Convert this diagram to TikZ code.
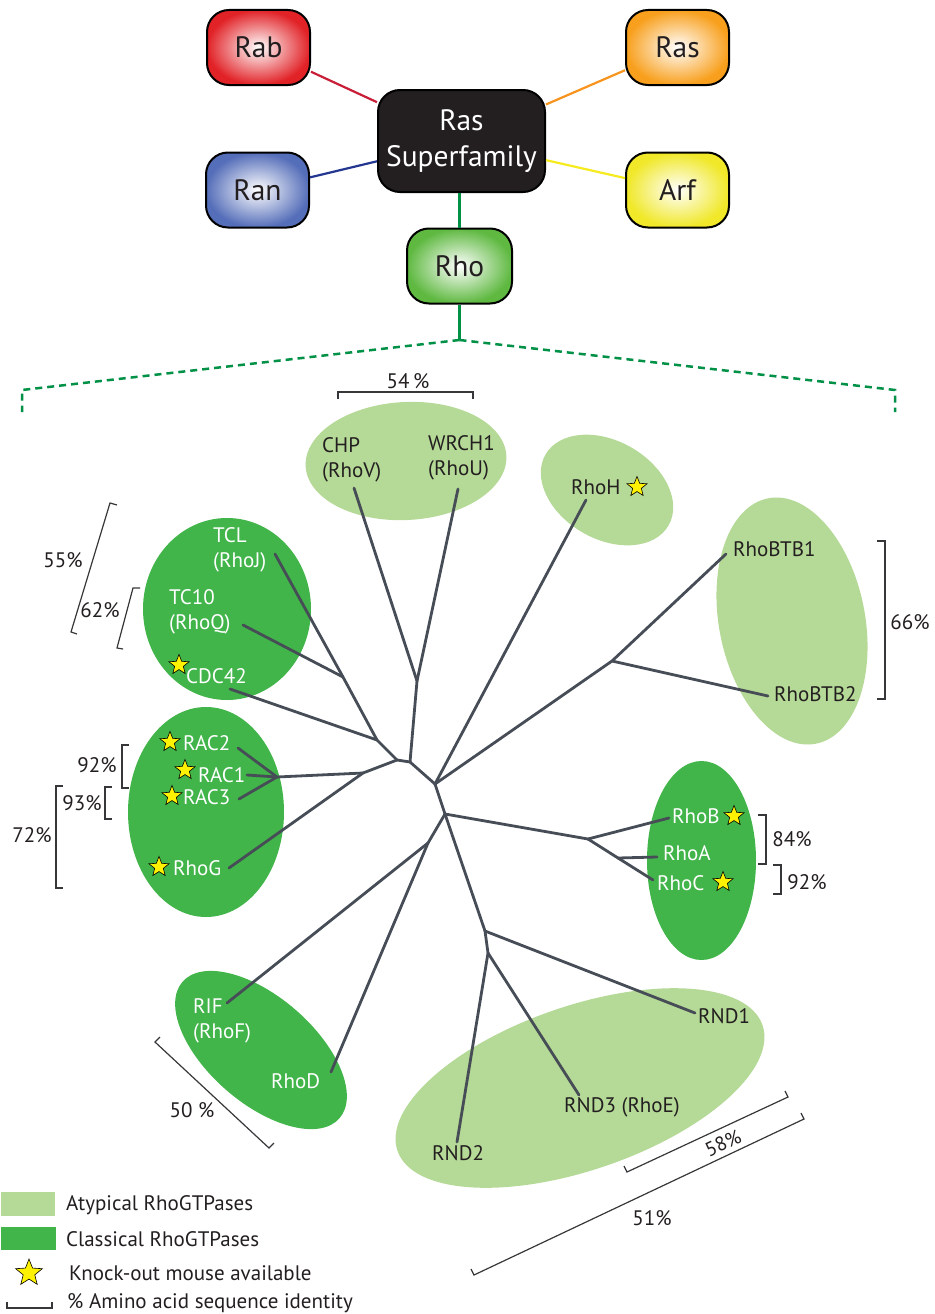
\documentclass[tikz,border=0pt]{standalone}
\usepackage{fontspec}
\setmainfont{PT Sans}
\usetikzlibrary{shapes.geometric}
\definecolor{lgreen}{RGB}{181,217,150}
\definecolor{dgreen}{RGB}{65,180,74}
\definecolor{treec}{RGB}{71,77,87}
\definecolor{txt}{RGB}{35,31,32}
\definecolor{brkc}{RGB}{55,55,58}
\definecolor{starY}{RGB}{255,242,0}
\definecolor{rabC}{RGB}{225,35,40}
\definecolor{rasC}{RGB}{248,160,30}
\definecolor{ranC}{RGB}{85,110,185}
\definecolor{arfC}{RGB}{240,232,40}
\definecolor{rhoC}{RGB}{95,185,65}
\definecolor{rabL}{RGB}{200,30,55}
\definecolor{rasL}{RGB}{247,148,29}
\definecolor{ranL}{RGB}{35,55,145}
\definecolor{arfL}{RGB}{245,235,30}
\definecolor{rhoL}{RGB}{0,145,70}
\begin{document}
\begin{tikzpicture}[x=1pt,y=-1pt,
  fam/.style={draw=black, line width=2pt, rounded corners=22pt, minimum width=103pt, minimum height=75pt, inner sep=0pt, font=\fontsize{29.5}{31}\selectfont, text=txt, shade, shading=radial, inner color=white},
  famline/.style={line width=2.2pt},
  ell/.style={ellipse, inner sep=0pt, draw=none},
  tree/.style={draw=treec, line width=2.8pt, line cap=round, line join=round},
  lbl/.style={font=\fontsize{21}{25}\selectfont, inner sep=0pt, anchor=west, align=left},
  lblW/.style={lbl, text=white},
  lblD/.style={lbl, text=txt},
  pct/.style={font=\fontsize{21}{24}\selectfont, inner sep=0pt, text=txt},
  brk/.style={draw=brkc, line width=1.2pt},
  kostar/.style={star, star points=5, star point ratio=2.3, minimum size=21pt, inner sep=0pt, fill=starY, draw=black, line width=0.6pt},
  dashg/.style={draw=rhoL, line width=2.5pt, dash pattern=on 7pt off 5pt}
]
\useasboundingbox (0,0) rectangle (934,1314);

% ---------- top: Ras superfamily ----------
\node[draw=black, line width=2pt, fill=txt, rounded corners=22pt, minimum width=167pt, minimum height=102pt, inner sep=0pt, text=white, align=center, font=\fontsize{29.5}{36}\selectfont] (super) at (461.5,141) {Ras\\Superfamily};
\node[fam, outer color=rabC] (rab) at (258.5,47.5) {Rab};
\node[fam, outer color=rasC] (ras) at (677.5,47.5) {Ras};
\node[fam, outer color=ranC] (ran) at (257.5,190) {Ran};
\node[fam, outer color=arfC] (arf) at (677.5,190) {Arf};
\node[fam, outer color=rhoC, minimum width=105pt] (rho) at (459.5,266) {Rho};

\draw[famline, rabL] (rab) -- (super);
\draw[famline, rasL] (ras) -- (super);
\draw[famline, ranL] (ran) -- (super);
\draw[famline, arfL] (arf) -- (super);
\draw[famline, rhoL] (rho.north) -- (rho.north |- super.south);

\coordinate (split) at (459.5,340);
\coordinate (dl1) at (22,390);
\coordinate (dl2) at (22,412);
\coordinate (dr1) at (895,390);
\coordinate (dr2) at (895,412);
\draw[famline, rhoL] (rho.south) -- (split);
\draw[dashg] (split) -- (dl1) -- (dl2);
\draw[dashg] (split) -- (dr1) -- (dr2);

% ---------- ellipses ----------
\node[ell, fill=lgreen, minimum width=201pt, minimum height=118pt, rotate=3] (elCHP) at (406,461) {};
\node[ell, fill=lgreen, minimum width=142pt, minimum height=98pt, rotate=-30] (elRhoH) at (607,490) {};
\node[ell, fill=lgreen, minimum width=146pt, minimum height=250pt, rotate=11] (elBTB) at (792,621) {};
\node[ell, fill=dgreen, minimum width=168pt, minimum height=182pt] (elTC) at (227,609) {};
\node[ell, fill=dgreen, minimum width=156pt, minimum height=210pt] (elRAC) at (206,812) {};
\node[ell, fill=dgreen, minimum width=109pt, minimum height=199pt] (elRho) at (701.5,860.5) {};
\node[ell, fill=dgreen, minimum width=208pt, minimum height=106pt, rotate=-41] (elRIF) at (261,1050) {};
\node[ell, fill=lgreen, minimum width=386pt, minimum height=164pt, rotate=19] (elRND) at (580,1088) {};

% ---------- tree coordinates ----------
\coordinate (tclE) at (275,554);
\coordinate (tc10E) at (243,625);
\coordinate (cdcE) at (230,689);
\coordinate (rac2E) at (238,748);
\coordinate (rac1E) at (247,775);
\coordinate (rac3E) at (239,799);
\coordinate (rhogE) at (229,868);
\coordinate (chpE) at (354,488);
\coordinate (wrchE) at (458,489);
\coordinate (rhohE) at (586,500);
\coordinate (btb1E) at (726,554);
\coordinate (btb2E) at (768,696);
\coordinate (rhobE) at (669,818);
\coordinate (rhoaE) at (657,857);
\coordinate (rhocE) at (653,880);
\coordinate (rnd1E) at (695,1013);
\coordinate (rnd3E) at (579,1095);
\coordinate (rnd2E) at (457,1142);
\coordinate (rifE) at (227,1003);
\coordinate (rhodE) at (331,1072);

\coordinate (nTC) at (343,677);
\coordinate (nCDC) at (377,740);
\coordinate (nA) at (397,760);
\coordinate (nRG) at (363,773);
\coordinate (nRAC) at (277,777);
\coordinate (nB) at (410,762);
\coordinate (nCHP) at (417,681);
\coordinate (nC) at (435,784);
\coordinate (nBTB) at (612,661);
\coordinate (nD) at (445,814);
\coordinate (nRho) at (588,839);
\coordinate (nRhoAC) at (618,858);
\coordinate (nE) at (428,843);
\coordinate (nF) at (485,931);
\coordinate (nG) at (488,953);

% ---------- tree branches ----------
\draw[tree] (tclE) -- (nTC);
\draw[tree] (tc10E) -- (nTC);
\draw[tree] (nTC) -- (nCDC);
\draw[tree] (cdcE) -- (nCDC);
\draw[tree] (nCDC) -- (nA);
\draw[tree] (nA) -- (nRG);
\draw[tree] (nRG) -- (nRAC);
\draw[tree] (nRG) -- (rhogE);
\draw[tree] (rac1E) -- (nRAC);
\draw[tree] (rac2E) -- (nRAC);
\draw[tree] (rac3E) -- (nRAC);
\draw[tree] (nA) -- (nB);
\draw[tree] (nB) -- (nCHP);
\draw[tree] (chpE) -- (nCHP);
\draw[tree] (wrchE) -- (nCHP);
\draw[tree] (nB) -- (nC);
\draw[tree] (nC) -- (rhohE);
\draw[tree] (nC) -- (nBTB);
\draw[tree] (nBTB) -- (btb1E);
\draw[tree] (nBTB) -- (btb2E);
\draw[tree] (nC) -- (nD);
\draw[tree] (nD) -- (nRho);
\draw[tree] (nRho) -- (rhobE);
\draw[tree] (nRho) -- (nRhoAC) -- (rhocE);
\draw[tree] (nRhoAC) -- (rhoaE);
\draw[tree] (nD) -- (nE);
\draw[tree] (nE) -- (rifE);
\draw[tree] (nE) -- (rhodE);
\draw[tree] (nD) -- (nF);
\draw[tree] (nF) -- (rnd1E);
\draw[tree] (nF) -- (nG);
\draw[tree] (nG) -- (rnd2E);
\draw[tree] (nG) -- (rnd3E);

% ---------- labels ----------
\node[lblD] (chp) at (322,459.5) {CHP\\(RhoV)};
\node[lblD] (wrch) at (428,458) {WRCH1\\(RhoU)};
\node[lblD] (rhoh) at (571,487) {RhoH};
\node[lblW] (tcl) at (213,549.5) {TCL\\(RhoJ)};
\node[lblW] (tc10) at (169,611.5) {TC10\\(RhoQ)};
\node[lblW] (cdc42) at (186,676) {CDC42};
\node[lblW] (rac2) at (183,743) {RAC2};
\node[lblW] (rac1) at (198,775) {RAC1};
\node[lblW] (rac3) at (183,797) {RAC3};
\node[lblW] (rhog) at (173,868) {RhoG};
\node[lblD] (btb1) at (733,549) {RhoBTB1};
\node[lblD] (btb2) at (774,694) {RhoBTB2};
\node[lblW] (rhob) at (672,816) {RhoB};
\node[lblW] (rhoa) at (663,853) {RhoA};
\node[lblW] (rhoc) at (657,883) {RhoC};
\node[lblW] (rif) at (193,1020.5) {RIF\\(RhoF)};
\node[lblW] (rhod) at (271,1081) {RhoD};
\node[lblD] (rnd1) at (698,1016) {RND1};
\node[lblD] (rnd3) at (564,1107) {RND3 (RhoE)};
\node[lblD] (rnd2) at (432,1153) {RND2};

% ---------- stars ----------
\node[kostar] (sRhoH) at (637,487) {};
\node[kostar] (sCDC) at (179,665) {};
\node[kostar] (sRAC2) at (170,742) {};
\node[kostar] (sRAC1) at (185,770) {};
\node[kostar] (sRAC3) at (172,796) {};
\node[kostar] (sRhoG) at (159,867) {};
\node[kostar] (sRhoB) at (734,816) {};
\node[kostar] (sRhoC) at (723,882) {};

% ---------- identity brackets ----------
\draw[brk] (338,399) -- (338,392) -- (473,392) -- (473,399);
\node[pct] (p54) at (408,381) {54\,\%};

\draw[brk] (117,505) -- (110,503) -- (71,632) -- (77,634);
\node[pct] (p55) at (63,560) {55\%};
\draw[brk] (140,588) -- (133,588) -- (117,648) -- (123,649);
\node[pct] (p62) at (100,610) {62\%};

\draw[brk] (129,745) -- (122,745) -- (122,788) -- (129,788);
\node[pct] (p92a) at (97,765) {92\%};
\draw[brk] (112,787) -- (105,787) -- (105,819) -- (112,819);
\node[pct] (p93) at (82,803) {93\%};
\draw[brk] (63,786) -- (56,786) -- (56,888) -- (63,888);
\node[pct] (p72) at (32,835) {72\%};

\draw[brk] (758,815) -- (766,815) -- (766,864) -- (758,864);
\node[pct] (p84) at (792,839) {84\%};
\draw[brk] (773,865) -- (781,865) -- (781,894) -- (773,894);
\node[pct] (p92b) at (807,882) {92\%};
\draw[brk] (877,541) -- (885,541) -- (885,699) -- (877,699);
\node[pct] (p66) at (910,622) {66\%};

\draw[brk] (160,1037) -- (155,1042) -- (269,1148) -- (274,1143);
\node[pct] (p50) at (192,1110) {50 \%};

\draw[brk] (624,1166) -- (627,1172) -- (788,1097) -- (785,1091);
\node[pct, rotate=25, font=\fontsize{20}{22}\selectfont] (p58) at (723,1143) {58\%};
\draw[brk] (471,1269) -- (474,1275) -- (804,1119) -- (801,1113);
\node[pct] (p51) at (652,1218) {51\%};

% ---------- legend ----------
\fill[lgreen] (1,1192) rectangle (55,1216);
\fill[dgreen] (1,1227) rectangle (56,1250);
\node[lblD] (lgA) at (66,1205) {Atypical RhoGTPases};
\node[lblD] (lgC) at (66,1239) {Classical RhoGTPases};
\node[kostar, minimum size=28pt] (lgS) at (29,1273) {};
\node[lblD] (lgK) at (69,1273) {Knock-out mouse available};
\draw[brk] (7,1302) -- (7,1308) -- (52,1308) -- (52,1302);
\node[lblD] (lgP) at (67,1303) {\% Amino acid sequence identity};
\end{tikzpicture}
\end{document}
